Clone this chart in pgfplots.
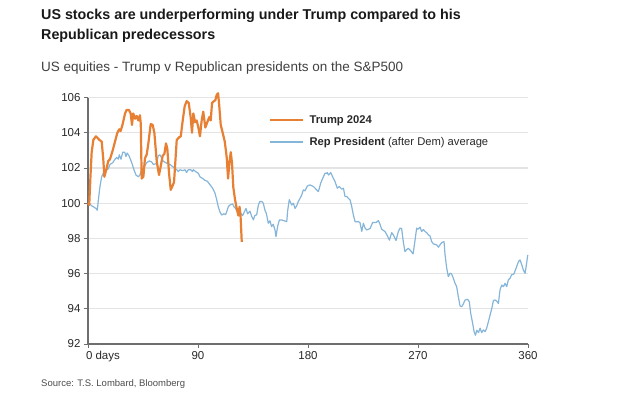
\documentclass[border=0pt]{standalone}
\usepackage{fontspec}
\setmainfont{Liberation Sans}
\usepackage{pgfplots}
\pgfplotsset{compat=1.18}
\definecolor{trumpor}{RGB}{232,128,52}
\definecolor{repblue}{RGB}{133,182,218}
\definecolor{gridc}{RGB}{228,228,228}
\definecolor{axc}{RGB}{110,110,110}
\definecolor{txt}{RGB}{40,40,40}
\begin{document}
\begin{tikzpicture}
\useasboundingbox (0bp,0bp) rectangle (640bp,404bp);
\node[anchor=base west, inner sep=0pt, font=\fontsize{14.3bp}{16bp}\selectfont\bfseries, text=black!90] at (41bp,384bp) {US stocks are underperforming under Trump compared to his};
\node[anchor=base west, inner sep=0pt, font=\fontsize{14.3bp}{16bp}\selectfont\bfseries, text=black!90] at (41bp,364bp) {Republican predecessors};
\node[anchor=base west, inner sep=0pt, font=\fontsize{13.5bp}{15bp}\selectfont, text=black!75] at (41bp,332bp) {US equities - Trump v Republican presidents on the S\&P500};
\node[anchor=base west, inner sep=0pt, font=\fontsize{9.5bp}{11bp}\selectfont, text=black!70] at (41bp,18bp) {Source: T.S. Lombard, Bloomberg};
\begin{axis}[
  at={(88bp,60bp)}, anchor=south west,
  scale only axis, width=440bp, height=246.4bp,
  xmin=0, xmax=360, ymin=92, ymax=106,
  clip=false,
  axis x line*=bottom, axis y line*=left,
  axis line style={draw=axc, line width=1.3bp, -},
  xtick={0,90,180,270,360},
  xticklabels={\makebox[0pt][l]{\hspace{-2bp}0 days},90,180,270,360},
  ytick={92,94,96,98,100,102,104,106},
  ymajorgrids, grid style={draw=gridc, line width=1.2bp},
  tick align=outside, major tick length=4bp,
  tick style={draw=axc, line width=0.8bp},
  /pgf/number format/assume math mode=true,
  ticklabel style={font=\fontsize{11.5bp}{13bp}\selectfont, text=txt},
  legend style={at={(0.405,0.945)}, anchor=north west, draw=none, fill=none,
    font=\fontsize{11.2bp}{13bp}\selectfont, text=txt, row sep=8.5bp,
    nodes={inner xsep=5bp}},
  legend cell align=left,
  legend image code/.code={\draw[#1] (0bp,0bp) -- (33bp,0bp);},
]
\addlegendimage{trumpor, line width=2.2bp}
\addlegendentry{\textbf{Trump 2024}}
\addlegendimage{repblue, line width=1.2bp}
\addlegendentry{\textbf{Rep President} (after Dem) average}

\addplot[forget plot, repblue, line width=1.2bp, line join=round] coordinates {
(0,100) (1,100) (3,99.85) (4.4,99.8) (6.5,99.7) (7.6,99.6) (8.5,100.2) (9.8,100.95) (11.2,101.5) (13.1,101.8) (15.3,101.9) (16.6,101.95) (18,102.2) (20.2,102.3) (22.1,102.5) (23.5,102.6) (24.8,102.5) (25.6,102.75) (27,102.5) (28.4,102.9) (30,102.9) (31.1,102.65) (32,102.85) (33.5,102.7) (34.4,102.55) (35.8,102.3) (37.6,101.9) (39.3,101.6) (41.2,101.5) (42.5,101.6) (43.9,101.9) (45.8,102.05) (48,102.3) (50.2,102.4) (52,102.35) (53.5,102.2) (56,102.25) (57.5,102.7) (58.8,102.75) (60,102.6) (61.4,102.4) (63.5,102.3) (65.5,102.25) (67.1,102.2) (69.8,102.05) (72.6,101.9) (73.9,101.8) (75.3,101.9) (77.5,101.85) (79.4,101.9) (80.7,101.75) (82,101.9) (84,101.9) (85.5,101.8) (86.2,101.9) (88,101.8) (90.3,101.7) (91.6,101.5) (93.9,101.4) (95.7,101.3) (97.6,101.25) (99.8,101.05) (102,100.85) (103.9,100.57) (105.3,100.2) (106.6,99.8) (108,99.5) (109.4,99.33) (111.2,99.4) (112.6,99.35) (113.4,99.5) (114.8,99.8) (116.1,99.9) (118.4,99.96) (119.4,99.8) (120.8,99.7) (122.2,99.5) (123.5,99.7) (124.9,99.43) (126.5,99.3) (127.9,99.5) (129.3,99.7) (130.6,99.4) (132.5,99.55) (134,99.24) (135.3,99.05) (136.5,99.3) (138,99.34) (139.4,99.9) (140.7,100.1) (142.1,100.1) (143.4,100.0) (144.8,99.6) (146,99.4) (147.5,98.86) (148.9,99.0) (150.2,98.67) (151.5,98.8) (153,98.48) (153.8,98.1) (155.2,98.7) (156.6,99.05) (158.5,99.05) (160.4,99.0) (162.6,98.95) (163.4,99.6) (164.7,100.2) (166.7,99.9) (168,100.0) (169.4,99.7) (170.8,99.86) (172.1,100.1) (173.5,100.28) (174.9,100.47) (176.2,100.76) (177.5,100.7) (179.5,100.98) (181.6,101.04) (184.4,100.95) (185.8,100.85) (188.5,100.66) (190.4,101.14) (192.6,101.5) (193.9,101.7) (195.3,101.7) (195.8,101.74) (196.8,101.6) (198.6,101.74) (199.5,101.6) (200.7,101.42) (202.1,101.23) (204,100.85) (205.5,100.95) (207.6,100.8) (209,100.85) (210.3,100.38) (211.7,100.38) (213,100.28) (214.4,100.19) (215.8,99.8) (217.1,99.34) (218.5,98.95) (221.2,98.95) (222.5,98.9) (224,98.4) (225.3,98.86) (226.6,98.6) (228,98.48) (230.8,98.56) (232.9,98.9) (235.7,98.9) (237.6,99.01) (238.9,98.8) (240.3,98.52) (243,98.39) (245,98.14) (246.6,97.9) (248.5,98.33) (249.8,98.2) (252,97.88) (253.9,98.39) (255.3,98.58) (256.6,98.56) (258,97.8) (259.3,97.25) (260.7,97.36) (262.1,97.44) (264,97.3) (266,97.12) (267.6,97.91) (268.9,98.58) (270,98.52) (271.7,98.64) (273,98.39) (274.4,98.5) (275.8,98.39) (277.1,98.33) (278.5,98.2) (279.8,98.14) (281.2,97.82) (282.6,97.69) (285.3,97.63) (286.7,97.5) (288,97.63) (289.4,97.76) (291.3,97.82) (292.1,97.1) (293.5,96.3) (294.8,95.83) (296.2,96.02) (297.5,95.98) (298.9,95.74) (300.3,95.45) (301.6,95.26) (303,94.69) (304.4,94.16) (305.7,94.12) (307.1,94.28) (308.5,94.5) (310.6,94.54) (312,94.4) (313.1,93.75) (314.7,93.18) (315.9,92.7) (317,92.5) (318.1,92.78) (319.5,92.65) (320.8,92.9) (322.1,92.65) (323.5,92.8) (324.9,92.7) (326.2,92.9) (327.6,93.27) (329,93.65) (330.3,94.0) (331.7,94.47) (333,94.5) (334.4,94.44) (335.8,94.3) (337.1,95.07) (338.5,95.35) (339.9,95.26) (341.2,95.45) (342.6,95.26) (343.9,95.64) (345.3,95.74) (346.6,95.93) (348.5,95.98) (350.2,96.3) (352.2,96.68) (353.5,96.78) (354.9,96.5) (356.2,96.2) (357.6,96.02) (358.5,96.4) (359.8,97.06)
};
\addplot[forget plot, trumpor, line width=2.2bp, line join=round] coordinates {
(0,100.0) (1,99.9) (2,101.5) (3,102.9) (4.4,103.6) (6.5,103.8) (9.3,103.6) (11.2,103.5) (12.5,102.5) (13.4,101.5) (15.3,102.0) (16.6,102.4) (18,102.5) (20.2,103.0) (22.1,103.5) (24,104.0) (25.6,104.2) (26.7,104.1) (28.4,104.5) (30.3,105.1) (31.6,105.3) (33.5,105.3) (34.9,105.1) (36,104.45) (37,105.1) (38.5,104.8) (39.8,104.96) (41.2,104.7) (42.5,105.0) (43.2,104.5) (43.9,101.4) (45.3,101.5) (46.6,102.55) (48,102.75) (49.4,103.4) (51.3,104.5) (52.9,104.45) (54.3,104.0) (56.2,102.4) (58.1,101.6) (59.5,102.1) (61.1,102.7) (62.5,102.8) (63.8,103.4) (64.9,103.1) (66.3,101.7) (67.7,100.76) (69.3,101.0) (70.4,101.2) (72.6,103.6) (74.7,103.75) (75.9,103.8) (77.5,104.7) (79.1,105.5) (80.7,105.8) (82.4,105.7) (84,104.9) (85.1,104.0) (86.2,105.1) (87.6,104.6) (88.9,104.7) (90.3,104.3) (91.6,103.8) (93,104.7) (94.3,105.2) (96,104.3) (97.6,104.6) (99.3,104.9) (100.4,104.7) (101.5,105.7) (103.1,105.8) (104.2,105.85) (105.3,106.15) (106.4,106.25) (107.2,105.7) (108.6,104.45) (110.2,104.0) (111.9,103.5) (113.5,102.6) (114.6,101.4) (115.7,102.3) (116.8,102.9) (117.8,102.3) (118.9,100.9) (120.3,100.2) (121.7,99.7) (123,99.3) (124,99.8) (124.8,99.3) (125.8,97.8)
};
\end{axis}
\end{tikzpicture}
\end{document}
